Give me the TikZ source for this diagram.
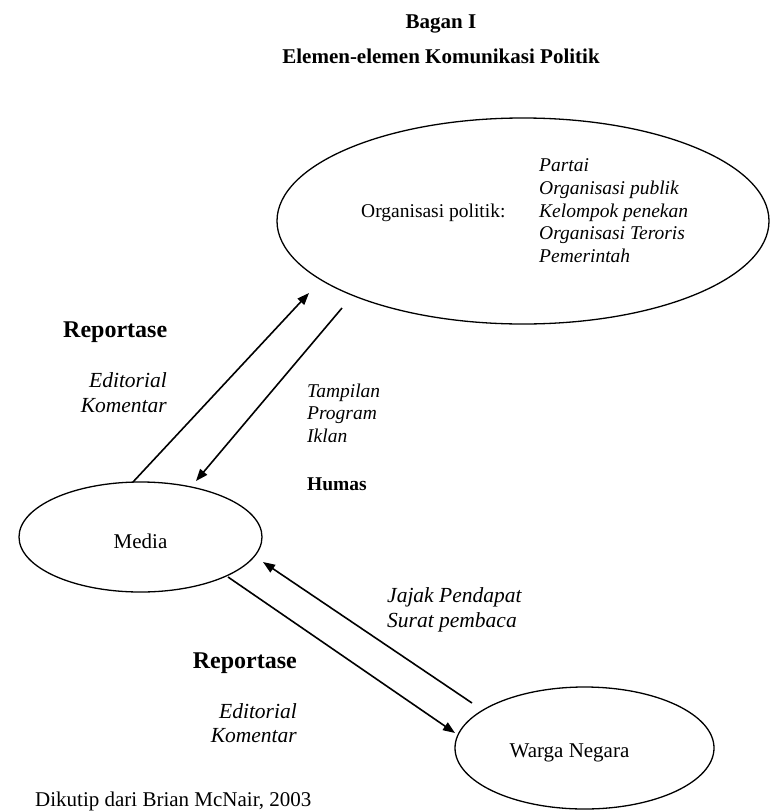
\documentclass[tikz,border=0pt]{standalone}
\usepackage{fontspec}
\setmainfont{Liberation Serif}
\usetikzlibrary{shapes.geometric,arrows.meta}
\begin{document}
\begin{tikzpicture}[x=1pt,y=-1pt,
  bubble/.style={draw, ellipse, line width=1.3pt, inner sep=0pt},
  arr/.style={line width=1.6pt, -{Triangle[length=12pt,width=9pt]}},
  lbl/.style={inner sep=0pt},
  ttl/.style={lbl, font=\fontsize{21}{25}\selectfont\bfseries},
  rep/.style={lbl, font=\fontsize{24}{28}\selectfont\bfseries},
  hum/.style={lbl, font=\fontsize{19.5}{22.5}\selectfont\bfseries},
  reg/.style={lbl, font=\fontsize{19.5}{22.5}\selectfont},
  regl/.style={lbl, font=\fontsize{21}{25}\selectfont},
  itl/.style={lbl, font=\fontsize{19.5}{22.5}\selectfont\itshape},
  itb/.style={lbl, font=\fontsize{21.5}{25}\selectfont\itshape}
]
\useasboundingbox (0,0) rectangle (770,811);

% title
\node[ttl, anchor=base] (t1) at (441,28) {Bagan I};
\node[ttl, anchor=base] (t2) at (441,63) {Elemen-elemen Komunikasi Politik};

% ellipses
\node[bubble, minimum width=492pt, minimum height=206pt] (org) at (523,221) {};
\node[bubble, minimum width=243pt, minimum height=110pt] (media) at (140.5,537) {};
\node[bubble, minimum width=259pt, minimum height=122pt] (warga) at (584.5,748) {};

% texts inside ellipses
\node[reg, anchor=base west] (op) at (361,217) {Organisasi politik:};
\node[itl, anchor=base west] (l1) at (539,171.8) {Partai};
\node[itl, anchor=base west] (l2) at (539,194.4) {Organisasi publik};
\node[itl, anchor=base west] (l3) at (539,217) {Kelompok penekan};
\node[itl, anchor=base west] (l4) at (539,239.6) {Organisasi Teroris};
\node[itl, anchor=base west] (l5) at (539,262.2) {Pemerintah};
\node[regl, anchor=base] (mt) at (140.5,548) {Media};
\node[regl, anchor=base] (wt) at (569.5,757) {Warga Negara};

% upper labels
\node[rep, anchor=base west] (r1) at (63,337) {Reportase};
\node[itb, anchor=base east] (e1) at (167,387) {Editorial};
\node[itb, anchor=base east] (k1) at (167,412) {Komentar};
\node[itl, anchor=base west] (p1) at (307,397) {Tampilan};
\node[itl, anchor=base west] (p2) at (307,419.5) {Program};
\node[itl, anchor=base west] (p3) at (307,442) {Iklan};
\node[hum, anchor=base west] (hm) at (307,490) {Humas};

% lower labels
\node[itb, anchor=base west] (j1) at (387,602) {Jajak Pendapat};
\node[itb, anchor=base west] (j2) at (387,627) {Surat pembaca};
\node[rep, anchor=base east] (r2) at (297,668) {Reportase};
\node[itb, anchor=base east] (e2) at (297,718) {Editorial};
\node[itb, anchor=base east] (k2) at (297,742) {Komentar};

% source
\node[regl, anchor=base west] (src) at (35,806) {Dikutip dari Brian McNair, 2003};

% connector end points
\coordinate (a1s) at (133,482);
\coordinate (a1e) at (309,293);
\coordinate (a2s) at (342,308);
\coordinate (a2e) at (196,481);
\coordinate (a3s) at (472,703);
\coordinate (a3e) at (263,562);
\coordinate (a4s) at (228,577);
\coordinate (a4e) at (455,733);

\draw[arr] (a1s) -- (a1e);
\draw[arr] (a2s) -- (a2e);
\draw[arr] (a3s) -- (a3e);
\draw[arr] (a4s) -- (a4e);
\end{tikzpicture}
\end{document}
